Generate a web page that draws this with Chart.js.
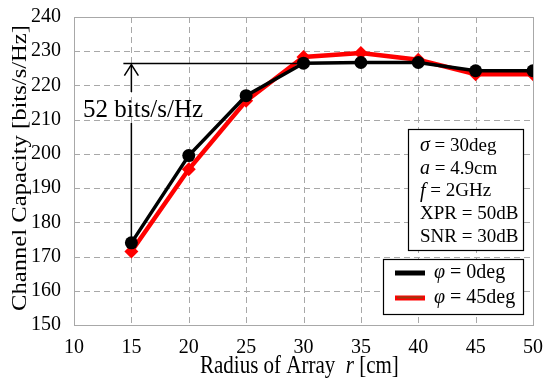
<!DOCTYPE html>
<html><head><meta charset="utf-8">
<script src="https://cdn.jsdelivr.net/npm/chart.js@4.4.0/dist/chart.umd.min.js"></script>
<style>html,body{margin:0;padding:0;background:#fff}#wrap{width:550px;height:382px}</style>
</head><body><div id="wrap"><canvas id="c" width="550" height="382"></canvas></div>
<script>
const radius = [15, 20, 25, 30, 35, 40, 45, 50];
const cap0 = [174.0, 199.5, 217.0, 226.5, 226.7, 226.7, 224.3, 224.3];
const cap45 = [171.5, 195.5, 215.5, 228.3, 229.5, 227.5, 223.3, 223.3];
const xTicks = [10, 15, 20, 25, 30, 35, 40, 45, 50];
const yTicks = [150, 160, 170, 180, 190, 200, 210, 220, 230, 240];
const paramLines = [["σ", " = 30deg"], ["a", " = 4.9cm"], ["f", " = 2GHz"], ["", "XPR = 50dB"], ["", "SNR = 30dB"]];
const legendLabels = [["φ", " = 0deg"], ["φ", " = 45deg"]];
const xTitle = ["Radius of Array  ", "r", " [cm]"];
const yTitle = "Channel Capacity [bits/s/Hz]";
const arrowLow = 174.0, arrowHigh = 226.4, arrowText = "52 bits/s/Hz";

const FONT = "'Liberation Serif', 'Times New Roman', serif";
const GRID = '#a8a8a8';

const gridPlugin = {
  id: 'gridPlugin',
  beforeDatasetsDraw(chart) {
    const ctx = chart.ctx, xs = chart.scales.x, ys = chart.scales.y, a = chart.chartArea;
    ctx.save();
    ctx.strokeStyle = GRID; ctx.lineWidth = 1; ctx.setLineDash([6, 4]);
    xTicks.forEach(v => {
      const x = Math.round(xs.getPixelForValue(v)) + 0.5;
      ctx.beginPath(); ctx.moveTo(x, a.top); ctx.lineTo(x, a.bottom); ctx.stroke();
    });
    yTicks.forEach(v => {
      const y = Math.round(ys.getPixelForValue(v)) + 0.5;
      ctx.beginPath(); ctx.moveTo(a.left, y); ctx.lineTo(a.right, y); ctx.stroke();
    });
    ctx.setLineDash([]);
    ctx.strokeRect(Math.round(a.left) + 0.5, Math.round(a.top) + 0.5, Math.round(a.right - a.left), Math.round(a.bottom - a.top));
    ctx.restore();
  }
};

const overlay = {
  id: 'overlay',
  afterDraw(chart) {
    const ctx = chart.ctx, xs = chart.scales.x, ys = chart.scales.y, a = chart.chartArea;
    ctx.save();
    // axis titles
    ctx.fillStyle = '#000'; ctx.textBaseline = 'alphabetic'; ctx.textAlign = 'left';
    ctx.save();
    ctx.translate(200, 373); ctx.scale(1, 1.2);
    let x = 0;
    ctx.font = '21px ' + FONT; ctx.fillText(xTitle[0], x, 0); x += ctx.measureText(xTitle[0]).width;
    ctx.font = 'italic 21px ' + FONT; ctx.fillText(xTitle[1], x, 0); x += ctx.measureText(xTitle[1]).width;
    ctx.font = '21px ' + FONT; ctx.fillText(xTitle[2], x, 0);
    ctx.restore();
    ctx.save();
    ctx.translate(26, 168); ctx.rotate(-Math.PI / 2); ctx.scale(1.12, 1);
    ctx.font = '22px ' + FONT; ctx.textAlign = 'center';
    ctx.fillText(yTitle, 0, 0);
    ctx.restore();
    // annotation: horizontal line and arrow
    const xa = xs.getPixelForValue(15), yh = ys.getPixelForValue(arrowHigh), yl = ys.getPixelForValue(arrowLow);
    ctx.strokeStyle = '#000'; ctx.lineWidth = 1.5;
    ctx.beginPath(); ctx.moveTo(xa - 8, yh); ctx.lineTo(xs.getPixelForValue(30), yh); ctx.stroke();
    ctx.beginPath(); ctx.moveTo(xa, yh + 1); ctx.lineTo(xa, 92); ctx.moveTo(xa, 123); ctx.lineTo(xa, yl); ctx.stroke();
    ctx.beginPath(); ctx.moveTo(xa - 7, yh + 12); ctx.lineTo(xa, yh + 1); ctx.lineTo(xa + 7, yh + 12); ctx.stroke();
    ctx.fillStyle = '#000'; ctx.font = '25px ' + FONT; ctx.textAlign = 'left'; ctx.textBaseline = 'alphabetic';
    ctx.fillText(arrowText, 83, 117);
    ctx.textBaseline = 'middle';
    // parameter box
    const bx = 408, by = 129, bw = 115, bh = 121;
    ctx.fillStyle = '#fff'; ctx.fillRect(bx, by, bw, bh);
    ctx.strokeStyle = '#000'; ctx.lineWidth = 1.2; ctx.strokeRect(bx + 0.5, by + 0.5, bw, bh);
    ctx.fillStyle = '#000';
    paramLines.forEach((p, i) => {
      const y = 146 + i * 22.7;
      let px = 420;
      if (p[0]) { ctx.font = 'italic 20px ' + FONT; ctx.fillText(p[0], px, y); px += ctx.measureText(p[0]).width; }
      ctx.font = '19px ' + FONT; ctx.fillText(p[1], px, y);
    });
    // legend box
    const lx = 383, ly = 259, lw = 140, lh = 55;
    ctx.fillStyle = '#fff'; ctx.fillRect(lx, ly, lw, lh);
    ctx.strokeStyle = '#000'; ctx.lineWidth = 1.2; ctx.strokeRect(lx + 0.5, ly + 0.5, lw, lh);
    chart.data.datasets.forEach((ds, i) => {
      const y = 273 + i * 25;
      ctx.strokeStyle = ds.borderColor; ctx.lineWidth = 5;
      ctx.beginPath(); ctx.moveTo(395, y); ctx.lineTo(425, y); ctx.stroke();
      if (i === 1) {
        ctx.strokeStyle = '#9a3a10'; ctx.lineWidth = 2;
        ctx.beginPath(); ctx.moveTo(397, y - 0.5); ctx.lineTo(423, y - 0.5); ctx.stroke();
      }
      ctx.fillStyle = '#000';
      let px = 434;
      ctx.font = 'italic 20px ' + FONT; ctx.fillText(legendLabels[i][0], px, y);
      px += ctx.measureText(legendLabels[i][0]).width;
      ctx.font = '20px ' + FONT; ctx.fillText(legendLabels[i][1], px, y);
    });
    ctx.restore();
  }
};

new Chart(document.getElementById('c'), {
  type: 'line',
  data: {
    datasets: [
      { label: 'φ = 0deg', data: radius.map((r, i) => ({x: r, y: cap0[i]})), borderColor: '#000', backgroundColor: '#000',
        borderWidth: 3.5, pointStyle: 'circle', pointRadius: 6.5, pointBorderWidth: 0, order: 0 },
      { label: 'φ = 45deg', data: radius.map((r, i) => ({x: r, y: cap45[i]})), borderColor: '#ff0000', backgroundColor: '#ff0000',
        borderWidth: 4.5, pointStyle: 'rectRot', pointRadius: 7, pointBorderWidth: 0, order: 1 }
    ]
  },
  options: {
    responsive: false, animation: false, devicePixelRatio: 1,
    layout: { padding: { top: 13, right: 17, left: 0, bottom: 0 } },
    plugins: { legend: { display: false }, tooltip: { enabled: false } },
    scales: {
      x: {
        type: 'linear', min: 10, max: 50,
        afterBuildTicks(s) { s.ticks = xTicks.map(v => ({value: v})); },
        afterFit(s) { s.height = 57; },
        grid: { display: false },
        border: { display: false },
        ticks: { color: '#000', font: { family: FONT, size: 20 }, padding: 3, maxRotation: 0 },
        title: { display: false }
      },
      y: {
        min: 150, max: 240,
        afterBuildTicks(s) { s.ticks = yTicks.map(v => ({value: v})); },
        afterFit(s) { s.width = 74; },
        grid: { display: false },
        border: { display: false },
        ticks: { color: '#000', font: { family: FONT, size: 20 }, padding: 5 },
        title: { display: false }
      }
    }
  },
  plugins: [gridPlugin, overlay]
});
</script></body></html>
